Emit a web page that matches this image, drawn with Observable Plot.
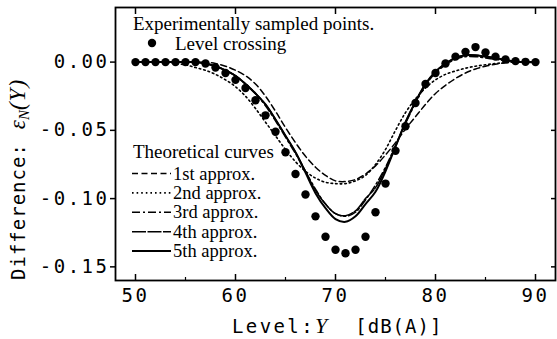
<!DOCTYPE html>
<html><head><meta charset="utf-8">
<script src="https://cdn.jsdelivr.net/npm/d3@7"></script>
<script src="https://cdn.jsdelivr.net/npm/@observablehq/plot@0.6"></script>
<style>
body{margin:0;background:#fff;}
#chart{position:relative;width:557px;height:339px;}
</style></head><body><div id="chart"></div>
<script>
// Level Y [dB(A)]
const levels = [50,51,52,53,54,55,56,57,58,59,60,61,62,63,64,65,66,67,68,69,70,71,72,73,74,75,76,77,78,79,80,81,82,83,84,85,86,87,88,89,90];
// Experimentally sampled points: level crossing
const crossing = [0,0,0,0,0,0,0,-0.001,-0.004,-0.008,-0.013,-0.019,-0.028,-0.039,-0.051,-0.066,-0.082,-0.097,-0.113,-0.128,-0.1375,-0.140,-0.1375,-0.128,-0.110,-0.089,-0.065,-0.047,-0.030,-0.016,-0.008,-0.001,0.004,0.0075,0.011,0.007,0.004,0.002,0.0007,0.0002,0];
// Theoretical curves
const approx1 = [0,0,0,0,0,0,0,0,-0.001,-0.003,-0.006,-0.010,-0.016,-0.025,-0.036,-0.048,-0.059,-0.069,-0.077,-0.083,-0.087,-0.0875,-0.086,-0.082,-0.076,-0.068,-0.059,-0.049,-0.040,-0.031,-0.023,-0.017,-0.012,-0.008,-0.005,-0.003,-0.0015,-0.0005,0,0,0];
const approx2 = [0,0,0,0,-0.001,-0.002,-0.004,-0.006,-0.009,-0.013,-0.018,-0.025,-0.034,-0.044,-0.054,-0.064,-0.073,-0.080,-0.085,-0.088,-0.089,-0.089,-0.087,-0.083,-0.075,-0.064,-0.050,-0.037,-0.027,-0.019,-0.013,-0.009,-0.0065,-0.0045,-0.003,-0.002,-0.001,-0.0005,0,0,0];
const approx3 = [0,0,0,0,0,0,0,-0.001,-0.003,-0.006,-0.010,-0.016,-0.023,-0.032,-0.043,-0.055,-0.067,-0.080,-0.093,-0.104,-0.111,-0.113,-0.110,-0.101,-0.090,-0.077,-0.061,-0.045,-0.030,-0.017,-0.008,-0.002,0.002,0.004,0.004,0.003,0.002,0.001,0.0005,0,0];
const approx4 = [0,0,0,0,0,0,0,-0.001,-0.003,-0.006,-0.010,-0.016,-0.023,-0.031,-0.042,-0.054,-0.066,-0.080,-0.094,-0.104,-0.111,-0.1125,-0.109,-0.100,-0.092,-0.078,-0.062,-0.044,-0.029,-0.016,-0.007,-0.001,0.003,0.005,0.005,0.004,0.003,0.0015,0.0005,0,0];
const approx5 = [0,0,0,0,0,0,0,-0.001,-0.003,-0.006,-0.010,-0.016,-0.023,-0.031,-0.042,-0.054,-0.066,-0.081,-0.096,-0.107,-0.115,-0.117,-0.113,-0.104,-0.095,-0.080,-0.062,-0.044,-0.029,-0.016,-0.007,-0.001,0.003,0.005,0.005,0.004,0.003,0.0015,0.0005,0,0];

const curveNames = ["1st approx.","2nd approx.","3rd approx.","4th approx.","5th approx."];
const yTicks = [0, -0.05, -0.10, -0.15];
const xTicks = [50, 60, 70, 80, 90];
const xMinorTicks = [55, 65, 75, 85];

const curveSeries = [approx1, approx2, approx3, approx4, approx5];
const curveStyles = [
  {strokeDasharray: "6,3.5", strokeWidth: 1.5},
  {strokeDasharray: "1.6,3", strokeWidth: 1.6},
  {strokeDasharray: "8,3,2,3", strokeWidth: 1.5},
  {strokeDasharray: "14,1.5", strokeWidth: 1.5},
  {strokeDasharray: null, strokeWidth: 2}
];
const pointRows = levels.map((x, i) => ({x, y: crossing[i]}));

const mono = "'DejaVu Sans Mono', monospace";
const serif = "'Liberation Serif', 'Times New Roman', serif";

const lineMarks = curveSeries.map((vals, k) =>
  Plot.line(levels.map((x, i) => ({x, y: vals[i]})), {
    x: "x", y: "y", stroke: "black", curve: "catmull-rom",
    strokeWidth: curveStyles[k].strokeWidth,
    strokeDasharray: curveStyles[k].strokeDasharray
  })
);

const chart = Plot.plot({
  width: 557, height: 339,
  marginLeft: 115, marginRight: 2, marginTop: 7, marginBottom: 59,
  style: {fontFamily: mono, fontSize: "19px", color: "black", background: "white"},
  x: {domain: [48, 92]},
  y: {domain: [-0.16, 0.04]},
  marks: [
    Plot.axisY({ticks: yTicks, tickSize: 5, tickPadding: 1, label: null,
      tickFormat: d => (d < 0 ? "-" : "") + Math.abs(d).toFixed(2), strokeWidth: 1.5}),
    Plot.axisY({anchor: "right", ticks: yTicks, tickSize: -5, label: null, tickFormat: () => "", strokeWidth: 1.5}),
    Plot.axisX({ticks: xTicks, tickSize: -6, tickPadding: 14, label: null, tickFormat: d => String(d), strokeWidth: 1.5}),
    Plot.axisX({ticks: xMinorTicks, tickSize: -3, label: null, tickFormat: () => "", strokeWidth: 1.2}),
    Plot.axisX({anchor: "top", ticks: xTicks, tickSize: -6, label: null, tickFormat: () => "", strokeWidth: 1.5}),
    Plot.frame({stroke: "black", strokeWidth: 1.8}),
    ...lineMarks,
    Plot.dot(pointRows, {x: "x", y: "y", r: 4.2, fill: "black", stroke: "none"})
  ]
});

document.getElementById("chart").appendChild(chart);
const svg = d3.select(chart);

// letter spacing for tick labels (wide Japanese gothic look)
svg.selectAll('g[aria-label="y-axis tick label"] text').attr("letter-spacing", "2.5px");
svg.selectAll('g[aria-label="x-axis tick label"] text').attr("letter-spacing", "2.5px");

// Y axis title
const yl = svg.append("text")
  .attr("transform", "translate(25,280) rotate(-90)")
  .attr("text-anchor", "start")
  .attr("font-size", 19)
  .attr("fill", "black");
yl.append("tspan").attr("font-family", mono).attr("letter-spacing", "1px").text("Difference:");
yl.append("tspan").attr("font-family", serif).attr("font-style", "italic").attr("font-size", 23).attr("dx", 14).text("ε");
yl.append("tspan").attr("font-family", serif).attr("font-style", "italic").attr("font-size", 15).attr("dy", 4).text("N");
yl.append("tspan").attr("font-family", serif).attr("font-style", "italic").attr("font-size", 23).attr("dy", -4).attr("letter-spacing", "1px").text("(Y)");

// X axis title
const xl = svg.append("text")
  .attr("x", 232).attr("y", 333)
  .attr("text-anchor", "start")
  .attr("font-size", 19)
  .attr("fill", "black");
xl.append("tspan").attr("font-family", mono).attr("letter-spacing", "2.4px").text("Level:");
xl.append("tspan").attr("font-family", serif).attr("font-style", "italic").attr("font-size", 22).text("Y");
xl.append("tspan").attr("font-family", mono).attr("dx", 28).attr("letter-spacing", "1px").text("[dB(A)]");

// Legend
const lg = svg.append("g").attr("font-family", serif).attr("font-size", 19).attr("fill", "black").attr("text-anchor", "start");
lg.append("text").attr("x", 133).attr("y", 30).text("Experimentally sampled points.");
lg.append("circle").attr("cx", 152).attr("cy", 43).attr("r", 4.2).attr("fill", "black");
lg.append("text").attr("x", 175).attr("y", 50).text("Level crossing");
lg.append("text").attr("x", 133).attr("y", 158).text("Theoretical curves");
curveNames.forEach((name, k) => {
  const yc = 173.5 + k * 19.4;
  lg.append("line").attr("x1", 132).attr("x2", 171).attr("y1", yc).attr("y2", yc)
    .attr("stroke", "black").attr("stroke-width", curveStyles[k].strokeWidth)
    .attr("stroke-dasharray", curveStyles[k].strokeDasharray);
  lg.append("text").attr("x", 173).attr("y", yc + 6).attr("font-size", 18.5).text(name);
});
</script></body></html>
